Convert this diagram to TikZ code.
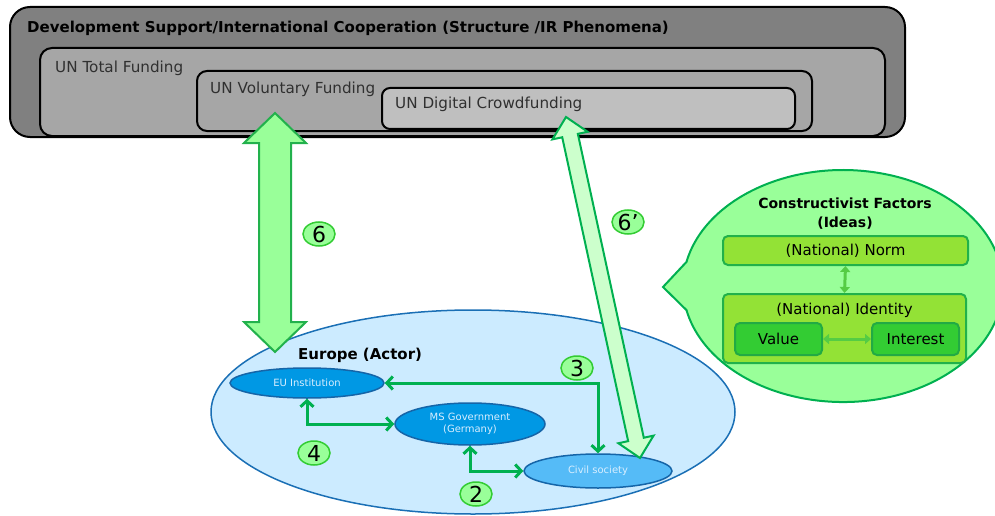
\documentclass[tikz,border=0pt]{standalone}
\usepackage{fontspec}
\setmainfont{DejaVu Sans}
\usetikzlibrary{shapes.geometric,arrows.meta,calc}
\definecolor{outerfill}{HTML}{808080}
\definecolor{totalfill}{HTML}{A6A6A6}
\definecolor{digfill}{HTML}{BFBFBF}
\definecolor{txtgray}{HTML}{303030}
\definecolor{numfill}{HTML}{99FF99}
\definecolor{numborder}{HTML}{33CC33}
\definecolor{arrfill}{HTML}{99FF99}
\definecolor{arrborder}{HTML}{22B14C}
\definecolor{arrtwofill}{HTML}{CCFFCC}
\definecolor{arrtwoborder}{HTML}{00B050}
\definecolor{europefill}{HTML}{CCEBFF}
\definecolor{europeborder}{HTML}{1A6FB5}
\definecolor{actorfill}{HTML}{0098E4}
\definecolor{actorborder}{HTML}{1565A8}
\definecolor{civfill}{HTML}{55BBF7}
\definecolor{actortext}{HTML}{D8EEFF}
\definecolor{conngreen}{HTML}{00B050}
\definecolor{bubblefill}{HTML}{99FF99}
\definecolor{bubbleborder}{HTML}{00B050}
\definecolor{normfill}{HTML}{93E236}
\definecolor{normborder}{HTML}{21B14B}
\definecolor{valfill}{HTML}{33CC33}
\definecolor{valborder}{HTML}{22AA44}
\definecolor{smallarr}{HTML}{55CC44}
\newcommand{\bigarr}[6]{%
\filldraw[#6] (#1)
 -- ($($(#1)!#3!(#2)$)!#4!90:(#2)$)
 -- ($($(#1)!#3!(#2)$)!#5!90:(#2)$)
 -- ($($(#2)!#3!(#1)$)!#5!-90:(#1)$)
 -- ($($(#2)!#3!(#1)$)!#4!-90:(#1)$)
 -- (#2)
 -- ($($(#2)!#3!(#1)$)!#4!90:(#1)$)
 -- ($($(#2)!#3!(#1)$)!#5!90:(#1)$)
 -- ($($(#1)!#3!(#2)$)!#5!-90:(#2)$)
 -- ($($(#1)!#3!(#2)$)!#4!-90:(#2)$)
 -- cycle;}
\tikzset{
 box/.style={draw=black, line width=2pt, rounded corners=#1, inner sep=0pt},
 boxtxt/.style={anchor=west, inner sep=0pt, text=txtgray, font=\fontsize{15.2}{17}\selectfont},
 boldtxt/.style={anchor=west, inner sep=0pt, text=black, font=\fontsize{15}{17}\selectfont\bfseries},
 num/.style={ellipse, draw=numborder, line width=1.5pt, fill=numfill, minimum width=32pt, minimum height=24pt, inner sep=0pt, font=\fontsize{22}{22}\selectfont},
 actor/.style={ellipse, draw=actorborder, line width=1.5pt, fill=actorfill, text=actortext, font=\fontsize{10}{11.5}\selectfont, inner sep=0pt, align=center},
 conn/.style={draw=conngreen, line width=3pt, {Straight Barb[length=6pt,width=13pt]}-{Straight Barb[length=6pt,width=13pt]}},
 bigone/.style={fill=arrfill, draw=arrborder, line width=2pt, line join=miter},
 bigtwo/.style={fill=arrtwofill, draw=arrtwoborder, line width=2pt, line join=miter},
 ideabox/.style={rectangle, rounded corners=5pt, draw=normborder, line width=2pt, fill=normfill, inner sep=0pt},
 valbox/.style={rectangle, rounded corners=5pt, draw=valborder, line width=2pt, fill=valfill, inner sep=0pt, font=\fontsize{15}{17}\selectfont},
 smallconn/.style={draw=smallarr, line width=3pt, {Triangle[length=6pt,width=10pt]}-{Triangle[length=6pt,width=10pt]}},
}
\begin{document}
\begin{tikzpicture}[x=1pt,y=1pt]
\useasboundingbox (0,0) rectangle (995,-516);
% structure boxes
\node[box=20pt, fill=outerfill, minimum width=895pt, minimum height=130pt] (outer) at (457.5,-72) {};
\node[boldtxt] (outertxt) at (27,-28) {Development Support/International Cooperation (Structure /IR Phenomena)};
\node[box=12pt, fill=totalfill, minimum width=845pt, minimum height=88pt] (total) at (462.5,-92) {};
\node[boxtxt] (totaltxt) at (55,-68) {UN Total Funding};
\node[box=10pt, fill=totalfill, minimum width=615pt, minimum height=60pt] (vol) at (504.5,-101) {};
\node[boxtxt] (voltxt) at (210,-89) {UN Voluntary Funding};
\node[box=8pt, fill=digfill, minimum width=413pt, minimum height=41pt] (dig) at (588.5,-108.5) {};
\node[boxtxt] (digtxt) at (395,-104) {UN Digital Crowdfunding};
% bubble
\filldraw[fill=bubblefill, draw=bubbleborder, line width=2pt] (663,-287) -- (686.5,-261.9) arc[start angle=168, end angle=-168, x radius=160pt, y radius=116pt] -- cycle;
\node[align=center, inner sep=0pt, font=\fontsize{14}{19}\selectfont\bfseries] (cftitle) at (845,-214) {Constructivist Factors\\(Ideas)};
\node[ideabox, minimum width=245pt, minimum height=29pt] (norm) at (845.5,-250.5) {};
\node[inner sep=0pt, font=\fontsize{15}{17}\selectfont] (normtxt) at (845.5,-250.5) {(National) Norm};
\node[ideabox, minimum width=243pt, minimum height=69pt] (ident) at (844.5,-328.5) {};
\node[inner sep=0pt, font=\fontsize{15}{17}\selectfont] (identtxt) at (844.5,-310) {(National) Identity};
\node[valbox, minimum width=87pt, minimum height=32pt] (value) at (778.5,-339) {Value};
\node[valbox, minimum width=87pt, minimum height=32pt] (interest) at (915.5,-339) {Interest};
\draw[smallconn] (norm.south) -- (ident.north);
\draw[smallconn] (value.east) -- (interest.west);
% Europe
\node[ellipse, draw=europeborder, fill=europefill, line width=1.5pt, minimum width=524pt, minimum height=204pt, inner sep=0pt] (europe) at (473,-412) {};
\node[boldtxt] (europetxt) at (298,-355) {Europe (Actor)};
\node[actor, minimum width=154pt, minimum height=30pt] (eu) at (307,-383) {EU Institution};
\node[actor, minimum width=150pt, minimum height=42pt] (ms) at (470,-424) {MS Government\\(Germany)};
\node[actor, fill=civfill, minimum width=148pt, minimum height=34pt] (civ) at (598,-471) {Civil society};
\draw[conn] (eu.east) -| (civ.north);
\draw[conn] (eu.south) |- (ms.west);
\draw[conn] (ms.south) |- (civ.west);
\node[num] (n3) at (577,-368) {3};
\node[num] (n4) at (314,-453) {4};
\node[num] (n2) at (476,-494) {2};
% big arrows
\coordinate (sixtop) at (275,-113);
\coordinate (sixbot) at (275,-352);
\bigarr{sixtop}{sixbot}{30pt}{31pt}{16pt}{bigone}
\coordinate (sixptop) at (566,-117);
\coordinate (sixpbot) at (640,-458);
\bigarr{sixptop}{sixpbot}{19pt}{18pt}{8pt}{bigtwo}
\node[num] (n6) at (319,-234) {6};
\node[num] (n6p) at (628,-222) {6’};
\end{tikzpicture}
\end{document}
